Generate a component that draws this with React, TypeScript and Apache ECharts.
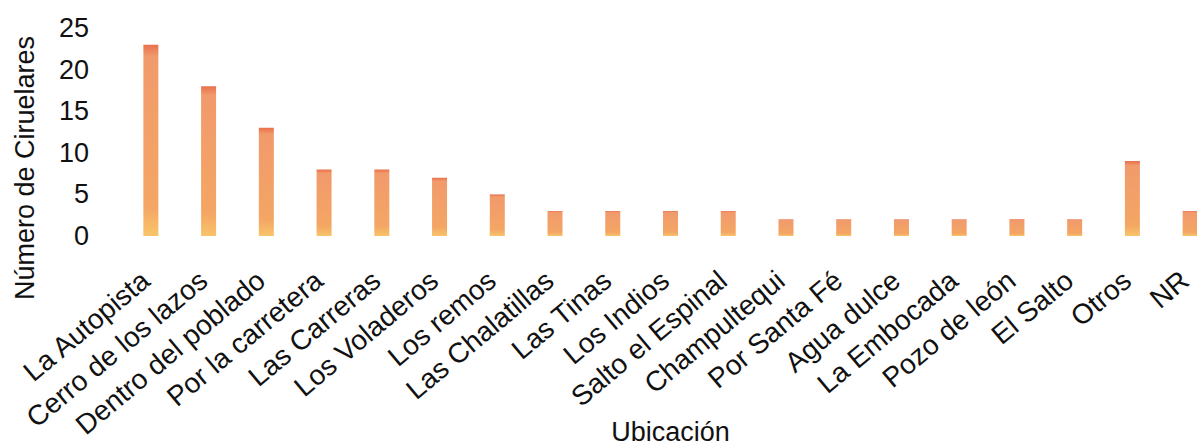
import React, { useEffect, useRef } from "react";
import * as echarts from "echarts";

const categories = [
  "La Autopista",
  "Cerro de los lazos",
  "Dentro del poblado",
  "Por la carretera",
  "Las Carreras",
  "Los Voladeros",
  "Los remos",
  "Las Chalatillas",
  "Las Tinas",
  "Los Indios",
  "Salto el Espinal",
  "Champultequi",
  "Por Santa Fé",
  "Agua dulce",
  "La Embocada",
  "Pozo de león",
  "El Salto",
  "Otros",
  "NR",
];
const values = [23, 18, 13, 8, 8, 7, 5, 3, 3, 3, 3, 2, 2, 2, 2, 2, 2, 9, 3];
const yTicks = { min: 0, max: 25, interval: 5 };
const xTitle = "Ubicación";
const yTitle = "Número de Ciruelares";

const FONT = "'Liberation Sans', Arial, sans-serif";

export default function App() {
  const ref = useRef<HTMLDivElement>(null);
  useEffect(() => {
    document.body.style.margin = "0";
    if (!ref.current) return;
    const chart = echarts.init(ref.current, undefined, { renderer: "svg" });
    chart.setOption({
      animation: false,
      backgroundColor: "#ffffff",
      grid: {
        left: 122,
        right: -22,
        top: 28,
        bottom: 210,
        containLabel: false,
        outerBoundsMode: "none",
      },
      xAxis: {
        type: "category",
        data: categories,
        axisLine: { show: false },
        axisTick: { show: false },
        axisLabel: {
          rotate: 40,
          margin: 36,
          interval: 0,
          fontSize: 28,
          color: "#111",
          fontFamily: FONT,
          hideOverlap: false,
          padding: [0, 7, 0, 0],
        },
        name: xTitle,
        nameLocation: "middle",
        nameGap: 182,
        nameMoveOverlap: false,
        nameTextStyle: { fontSize: 27, color: "#111", fontFamily: FONT },
      },
      yAxis: {
        type: "value",
        min: yTicks.min,
        max: yTicks.max,
        interval: yTicks.interval,
        splitLine: { show: false },
        axisLine: { show: false },
        axisTick: { show: false },
        axisLabel: { margin: 33, fontSize: 27, color: "#111", fontFamily: FONT },
        name: yTitle,
        nameLocation: "middle",
        nameGap: 84,
        nameMoveOverlap: false,
        nameTextStyle: { fontSize: 27, color: "#111", fontFamily: FONT, padding: [0, 72, 0, 0] },
      },
      series: [
        {
          type: "bar",
          data: values,
          barWidth: 15,
          itemStyle: {
            color: new echarts.graphic.LinearGradient(0, 0, 0, 1, [
              { offset: 0, color: "#e8704a" },
              { offset: 0.06, color: "#f19a6c" },
              { offset: 0.85, color: "#f4a664" },
              { offset: 1, color: "#f8c46a" },
            ]),
          },
        },
      ],
    });
    return () => chart.dispose();
  }, []);
  return <div ref={ref} style={{ width: 1197, height: 446 }} />;
}
